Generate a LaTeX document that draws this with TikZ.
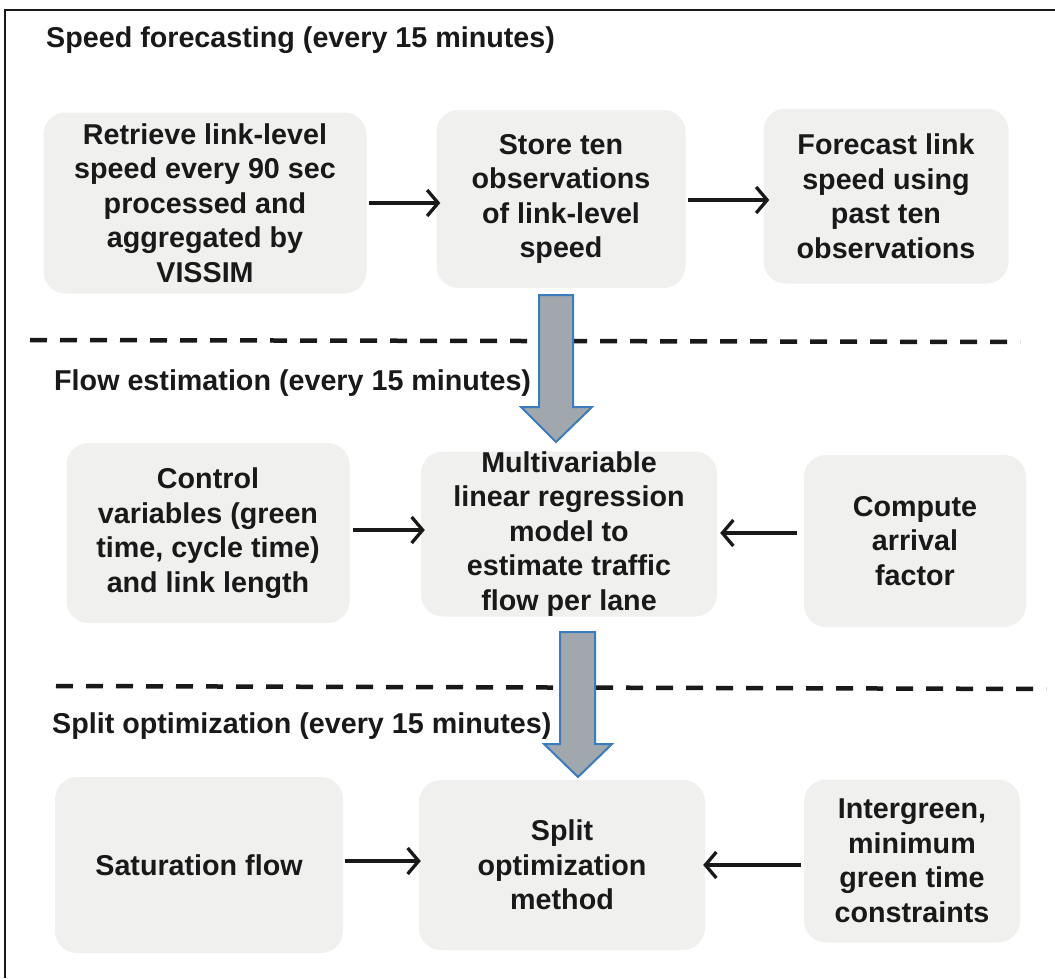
\documentclass[tikz,border=0pt]{standalone}
\usepackage{fontspec}
\setmainfont{Liberation Sans}
\usetikzlibrary{arrows.meta}
\definecolor{boxfill}{RGB}{240,241,238}
\definecolor{bigfill}{RGB}{160,168,174}
\definecolor{bigedge}{RGB}{58,124,190}
\definecolor{ink}{RGB}{25,25,25}
\tikzset{
  stage/.style={rectangle, rounded corners=22pt, fill=boxfill, draw=none, align=center,
    text=ink, font=\fontsize{28.7}{34.5}\selectfont\bfseries, inner sep=0pt},
  heading/.style={anchor=west, text=ink, font=\fontsize{28.7}{34.5}\selectfont\bfseries, inner sep=0pt},
  arr/.style={line width=3.3pt, ink, -{Straight Barb[length=11pt,width=26pt,line width=3.3pt]}},
  divider/.style={line width=4.5pt, ink, dash pattern=on 17pt off 13pt},
  bigarrow/.style={fill=bigfill, draw=bigedge, line width=2pt, line join=miter},
  frame/.style={line width=2pt, ink}
}
\begin{document}
\begin{tikzpicture}[x=1pt,y=-1pt]
\useasboundingbox (0,0) rectangle (1055,978);
% frame (cut at right and bottom)
\coordinate (f1) at (5,978);
\coordinate (f2) at (5,10);
\coordinate (f3) at (1055,10);
\draw[frame] (f1) -- (f2) -- (f3);

% headings
\node[heading] (h1) at (46,40) {Speed forecasting (every 15 minutes)};
\node[heading] (h2) at (54,383) {Flow estimation (every 15 minutes)};
\node[heading] (h3) at (52,726) {Split optimization (every 15 minutes)};

% dividers
\coordinate (d1a) at (30,340);
\coordinate (d1b) at (1020,342);
\coordinate (d2a) at (56,686);
\coordinate (d2b) at (1046,689);
\draw[divider] (d1a) -- (d1b);
\draw[divider] (d2a) -- (d2b);

% row 1
\node[stage, minimum width=323pt, minimum height=181pt] (A) at (205,203)
  {Retrieve link-level\\speed every 90 sec\\processed and\\aggregated by\\VISSIM};
\node[stage, minimum width=249pt, minimum height=178pt] (B) at (561,199)
  {Store ten\\observations\\of link-level\\speed};
\node[stage, minimum width=245pt, minimum height=175pt] (C) at (886,196)
  {Forecast link\\speed using\\past ten\\observations};

% row 2
\node[stage, minimum width=283pt, minimum height=180pt] (D) at (208,533)
  {Control\\variables (green\\time, cycle time)\\and link length};
\node[stage, minimum width=296pt, minimum height=165pt] (E) at (569,534)
  {Multivariable\\linear regression\\model to\\estimate traffic\\flow per lane};
\node[stage, minimum width=222pt, minimum height=172pt] (F) at (915,541)
  {Compute\\arrival\\factor};

% row 3
\node[stage, minimum width=288pt, minimum height=176pt] (G) at (199,865)
  {Saturation flow};
\node[stage, minimum width=286pt, minimum height=170pt] (H) at (562,865)
  {Split\\optimization\\method};
\node[stage, minimum width=216pt, minimum height=163pt] (I) at (912,861)
  {Intergreen,\\minimum\\green time\\constraints};

% small arrows
\draw[arr] ([xshift=2pt]A.east) -- ([xshift=4pt]A.east -| B.west);
\draw[arr] ([xshift=2pt,yshift=-1pt]B.east) -- ([xshift=6pt,yshift=-1pt]B.east -| C.west);
\draw[arr] ([xshift=3pt,yshift=3pt]D.east) -- ([xshift=4pt,yshift=3pt]D.east -| E.west);
\draw[arr] ([xshift=-7pt,yshift=8pt]F.west) -- ([xshift=3pt,yshift=8pt]F.west -| E.east);
\draw[arr] ([xshift=2pt,yshift=4pt]G.east) -- ([xshift=2pt,yshift=4pt]G.east -| H.west);
\draw[arr] ([xshift=-3pt,yshift=-4pt]I.west) -- ([xshift=-2pt,yshift=-4pt]I.west -| H.east);

% big arrows
\draw[bigarrow] (539,295) -- (573,295) -- (573,407) -- (592,407) -- (556,442)
  -- (521,407) -- (539,407) -- cycle;
\draw[bigarrow] (560,632) -- (595,632) -- (595,744) -- (612,744) -- (578,777)
  -- (544,744) -- (560,744) -- cycle;
\end{tikzpicture}
\end{document}
